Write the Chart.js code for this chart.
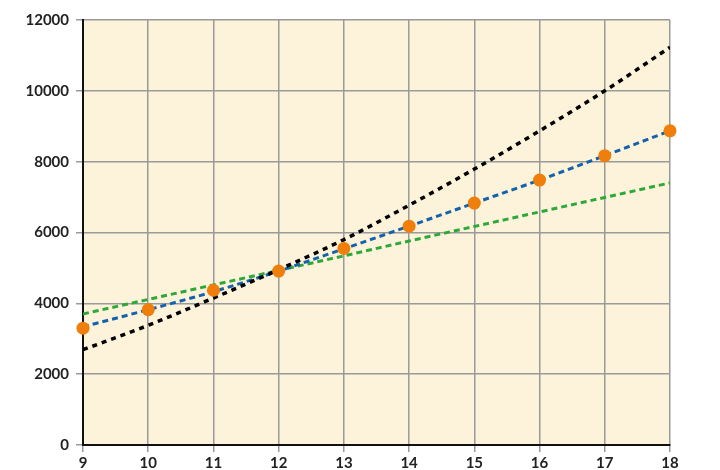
<!DOCTYPE html>
<html>
<head>
<meta charset="utf-8">
<script src="https://cdn.jsdelivr.net/npm/chart.js@4"></script>
<style>
  html, body { margin: 0; padding: 0; background: #fff; }
  canvas { display: block; }
</style>
</head>
<body>
<canvas id="chart" width="720" height="470"></canvas>
<script>
const xs = [9, 10, 11, 12, 13, 14, 15, 16, 17, 18]
const observed = [3300, 3820, 4370, 4910, 5550, 6180, 6830, 7480, 8170, 8870]
const blueFit = [3340, 3820, 4330, 4910, 5540, 6180, 6830, 7480, 8170, 8870]
const greenFit = [3700, 4110, 4520, 4930, 5340, 5760, 6170, 6580, 6990, 7400]
const blackFit = [2690, 3380, 4150, 4950, 5800, 6770, 7790, 8870, 10000, 11230]

const pts = arr => xs.map((x, i) => ({ x: x, y: arr[i] }))

const bgPlugin = {
    id: 'bg',
    beforeDraw(chart) {
        const { ctx, chartArea: a } = chart
        ctx.save()
        ctx.fillStyle = '#fdf3da'
        ctx.fillRect(a.left, a.top, a.right - a.left, a.bottom - a.top)
        ctx.restore()
    }
}

const tickFont = { family: 'Lato', size: 15, weight: 'bold' }

// dataset 0 is drawn on top
new Chart(document.getElementById('chart').getContext('2d'), {
    type: 'scatter',
    data: {
        datasets: [
            {
                label: 'points',
                data: pts(observed),
                showLine: false,
                clip: false,
                pointRadius: 6.5,
                pointBackgroundColor: '#f07e0a',
                pointBorderColor: '#f07e0a',
                pointBorderWidth: 0
            },
            {
                label: 'black',
                data: pts(blackFit),
                showLine: true,
                borderColor: '#000',
                borderWidth: 3.5,
                borderDash: [5, 5],
                pointRadius: 0,
                cubicInterpolationMode: 'monotone'
            },
            {
                label: 'blue',
                data: pts(blueFit),
                showLine: true,
                borderColor: '#1462ac',
                borderWidth: 3,
                borderDash: [6, 4],
                pointRadius: 0,
                cubicInterpolationMode: 'monotone'
            },
            {
                label: 'green',
                data: pts(greenFit),
                showLine: true,
                borderColor: '#2fa83a',
                borderWidth: 3,
                borderDash: [6, 4],
                pointRadius: 0
            }
        ]
    },
    options: {
        responsive: false,
        animation: false,
        layout: { padding: { top: 20, right: 50, bottom: 0, left: 0 } },
        plugins: { legend: { display: false }, tooltip: { enabled: false } },
        scales: {
            x: {
                type: 'linear',
                min: 9,
                max: 18,
                afterFit: s => { s.height = 25 },
                ticks: {
                    stepSize: 1, color: '#222', font: tickFont, padding: 2,
                    maxRotation: 0, autoSkip: false,
                    callback: v => String(v)
                },
                grid: { color: '#9a9a9a', lineWidth: 1.5, tickLength: 7 },
                border: { color: '#111', width: 2 }
            },
            y: {
                min: 0,
                max: 12000,
                afterFit: s => { s.width = 83 },
                ticks: {
                    stepSize: 2000, color: '#222', font: tickFont, padding: 7,
                    callback: v => String(v)
                },
                grid: { color: '#9a9a9a', lineWidth: 1.5, tickLength: 7 },
                border: { color: '#111', width: 2 }
            }
        }
    },
    plugins: [bgPlugin]
})
</script>
</body>
</html>
